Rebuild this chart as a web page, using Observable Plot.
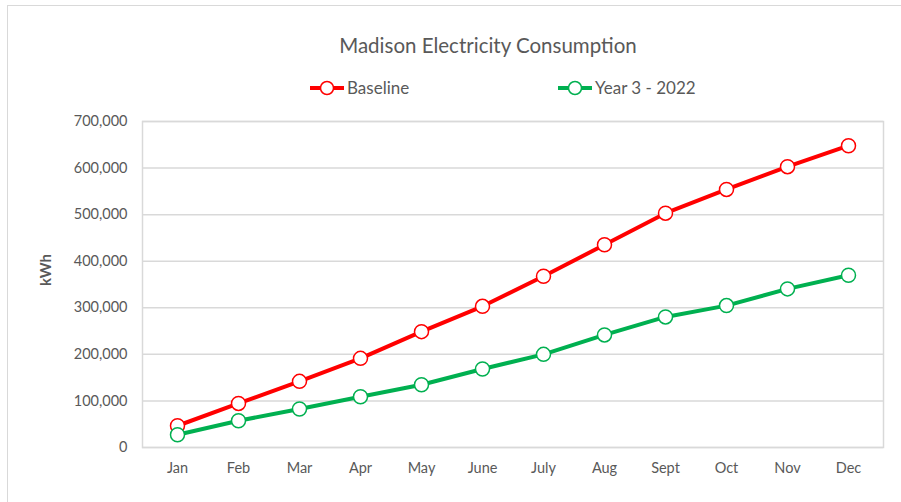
<!DOCTYPE html>
<html>
<head>
<meta charset="utf-8">
<script src="https://cdn.jsdelivr.net/npm/d3@7"></script>
<script src="https://cdn.jsdelivr.net/npm/@observablehq/plot@0.6"></script>
<style>
  html, body { margin: 0; padding: 0; background: #fff; }
  #wrap { position: relative; width: 901px; height: 502px; overflow: hidden; font-family: Lato, "Open Sans", sans-serif; color: #595959; }
  #border { position: absolute; left: 7px; top: 5px; width: 1000px; height: 1000px; border-left: 1.5px solid #d9d9d9; border-top: 1.5px solid #d9d9d9; box-sizing: border-box; }
  #title { position: absolute; left: 0; width: 976px; top: 31px; text-align: center; font-size: 20.5px; line-height: 28px; }
  .leg { position: absolute; top: 78px; font-size: 17px; line-height: 20px; display: flex; align-items: center; }
  .leg svg { margin-right: 3px; }
  #ylab { position: absolute; left: 45px; top: 270px; transform: translate(-50%, -50%) rotate(-90deg); font-weight: bold; font-size: 15px; }
  #chart { position: absolute; left: 0; top: 0; }
</style>
</head>
<body>
<div id="wrap">
  <div id="chart"></div>
  <div id="border"></div>
  <div id="title">Madison Electricity Consumption</div>
  <div id="legend"></div>
  <div id="ylab">kWh</div>
</div>
<script>
const months = ["Jan","Feb","Mar","Apr","May","June","July","Aug","Sept","Oct","Nov","Dec"];
const baseline = [46700, 94600, 142000, 191400, 248800, 303200, 367700, 435300, 503200, 554200, 603000, 648000];
const year3 = [27300, 57400, 82600, 109000, 134800, 168600, 200000, 241700, 280400, 304700, 340600, 369900];
const yTicks = [0, 100000, 200000, 300000, 400000, 500000, 600000, 700000];
const seriesNames = ["Baseline", "Year 3 - 2022"];
const seriesColors = ["#ff0000", "#00b050"];

const rows = [];
months.forEach((m, i) => {
  rows.push({month: m, value: baseline[i], series: seriesNames[0]});
  rows.push({month: m, value: year3[i], series: seriesNames[1]});
});

const chart = Plot.plot({
  width: 901,
  height: 502,
  marginLeft: 142,
  marginRight: 18,
  marginTop: 121,
  marginBottom: 55,
  style: {fontFamily: "Lato, 'Open Sans', sans-serif", fontSize: "14.5px", color: "#595959", background: "transparent"},
  x: {type: "point", domain: months, padding: 0.5, label: null},
  y: {domain: [0, 700000], label: null},
  color: {domain: seriesNames, range: seriesColors},
  marks: [
    Plot.ruleY(yTicks, {stroke: "#d9d9d9", strokeWidth: 1.5}),
    Plot.frame({stroke: "#d9d9d9", strokeWidth: 1.5}),
    Plot.axisY({ticks: yTicks, tickSize: 0, tickPadding: 15, tickFormat: d3.format(","), fill: "#595959", fontSize: 14.5, label: null}),
    Plot.axisX({tickSize: 0, tickPadding: 15, fill: "#595959", fontSize: 14.5, label: null}),
    Plot.line(rows, {x: "month", y: "value", z: "series", stroke: "series", strokeWidth: 4}),
    Plot.dot(rows, {x: "month", y: "value", stroke: "series", fill: "white", r: 7, strokeWidth: 1.5})
  ]
});
document.getElementById("chart").appendChild(chart);

const legend = document.getElementById("legend");
const legX = [310, 558];
seriesNames.forEach((name, i) => {
  const d = document.createElement("div");
  d.className = "leg";
  d.style.left = legX[i] + "px";
  const c = seriesColors[i];
  d.innerHTML = `<svg width="34" height="20"><line x1="0" x2="34" y1="10" y2="10" stroke="${c}" stroke-width="4"/><circle cx="17" cy="10" r="6.5" fill="white" stroke="${c}" stroke-width="1.5"/></svg><span>${name}</span>`;
  legend.appendChild(d);
});
</script>
</body>
</html>
